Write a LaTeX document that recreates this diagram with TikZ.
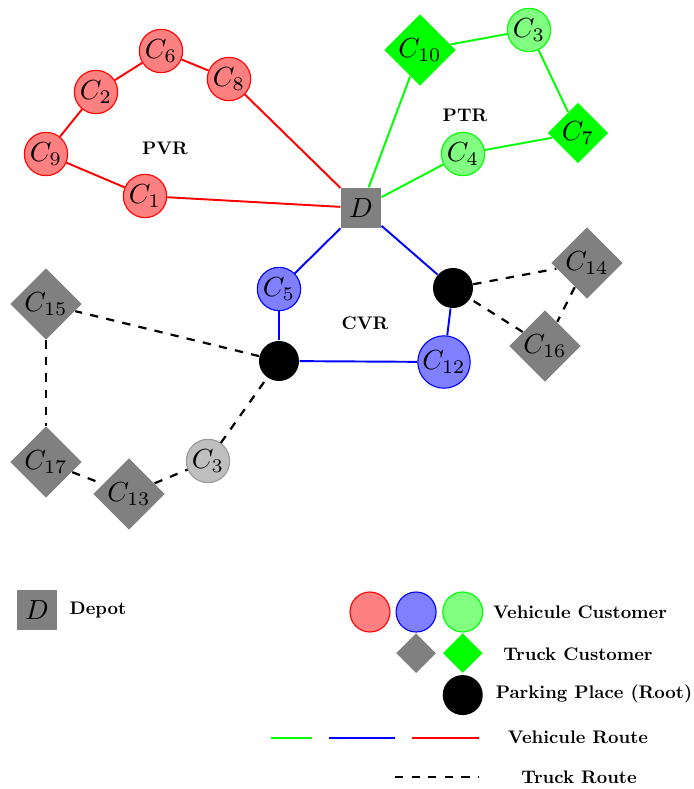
\documentclass[tikz,border=0pt]{standalone}
\usepackage{amsmath,amssymb}
\usepackage{xcolor}
\usepackage{tikz}
\usetikzlibrary{shapes,positioning}

\begin{document}
\begin{tikzpicture}[x=0.3623pt, y=-0.3623pt,
    depot/.style={rectangle, fill=gray, minimum size=14.5pt, inner sep=0pt},
    redcust/.style={circle, draw=red, fill=red!50, minimum size=14.5pt, inner sep=0.5pt},
    bluecust/.style={circle, draw=blue, fill=blue!50, minimum size=14.5pt, inner sep=0.5pt},
    greencust/.style={circle, draw=green, fill=green!50, minimum size=14.5pt, inner sep=0.5pt},
    greycust/.style={circle, draw=gray!80, fill=gray!50, minimum size=14.5pt, inner sep=0.5pt},
    greentruck/.style={diamond, fill=green, inner sep=0.5pt},
    greytruck/.style={diamond, fill=gray, inner sep=0.5pt},
    parking/.style={circle, fill=black, minimum size=14.5pt, inner sep=0pt},
    routelabel/.style={font=\bfseries, scale=0.66, transform shape, inner sep=0pt},
    vroute/.style={line width=0.7pt},
    troute/.style={thick, dashed}
]
\useasboundingbox (0,0) rectangle (693,789);

% Depot
\node [depot] (d) at (361,208) {$D$};

% PVR (red vehicle route)
\node [redcust] (c1) at (145,196) {$C_1$};
\node [redcust] (c9) at (46,154) {$C_9$};
\node [redcust] (c2) at (96,92) {$C_2$};
\node [redcust] (c6) at (161,51) {$C_6$};
\node [redcust] (c8) at (229,79) {$C_8$};
\node [routelabel] (pvr) at (165,148) {PVR};

% PTR (green route)
\node [greentruck] (c10) at (420,50) {$C_{10}$};
\node [greencust] (c3) at (529,30) {$C_3$};
\node [greentruck] (c7) at (578,133) {$C_7$};
\node [greencust] (c4) at (463,154) {$C_4$};
\node [routelabel] (ptr) at (465,115) {PTR};

% CVR (blue route with parking places)
\node [bluecust] (c5) at (279,289) {$C_5$};
\node [parking] (p1) at (279,361) {};
\node [bluecust] (c12) at (444,362) {$C_{12}$};
\node [parking] (p2) at (453,288) {};
\node [routelabel] (cvr) at (365,323) {CVR};

% Truck customers
\node [greytruck] (c15) at (46,304) {$C_{15}$};
\node [greytruck] (c17) at (46,462) {$C_{17}$};
\node [greytruck] (c13) at (129,494) {$C_{13}$};
\node [greycust] (c3t) at (208,461) {$C_3$};
\node [greytruck] (c14) at (587,263) {$C_{14}$};
\node [greytruck] (c16) at (545,346) {$C_{16}$};

% Routes
\draw [vroute, red] (d) -- (c1);
\draw [vroute, red] (c1) -- (c9);
\draw [vroute, red] (c9) -- (c2);
\draw [vroute, red] (c2) -- (c6);
\draw [vroute, red] (c6) -- (c8);
\draw [vroute, red] (c8) -- (d);

\draw [vroute, green] (d) -- (c10);
\draw [vroute, green] (c10) -- (c3);
\draw [vroute, green] (c3) -- (c7);
\draw [vroute, green] (c7) -- (c4);
\draw [vroute, green] (c4) -- (d);

\draw [vroute, blue] (d) -- (c5);
\draw [vroute, blue] (c5) -- (p1);
\draw [vroute, blue] (p1) -- (c12);
\draw [vroute, blue] (c12) -- (p2);
\draw [vroute, blue] (p2) -- (d);

\draw [troute] (p1) -- (c15);
\draw [troute] (c15) -- (c17);
\draw [troute] (c17) -- (c13);
\draw [troute] (c13) -- (c3t);
\draw [troute] (c3t) -- (p1);
\draw [troute] (p2) -- (c14);
\draw [troute] (c14) -- (c16);
\draw [troute] (c16) -- (p2);

% Legend
\node [depot] (legdepot) at (37,610) {$D$};
\node [routelabel] (depottext) at (98,610) {Depot};

\node [redcust] (legred) at (370,612) {};
\node [bluecust, right=1.8pt of legred] (legblue) {};
\node [greencust, right=2pt of legblue] (leggreen) {};
\node [greytruck, minimum size=14.5pt, below=0pt of legblue] (leggrey) {};
\node [greentruck, minimum size=14.5pt, below=0pt of leggreen] (leggreentruck) {};
\node [parking, below=0.3pt of leggreentruck] (legpark) {};

\node [routelabel] (vctext) at (580,612) {Vehicule Customer};
\node [routelabel] (tctext) at (578,654) {Truck Customer};
\node [routelabel] (pptext) at (594,694) {Parking Place (Root)};

\coordinate (gs) at (271,738); \coordinate (ge) at (312,738);
\coordinate (bs) at (329,738); \coordinate (be) at (395,738);
\coordinate (rs) at (412,738); \coordinate (re) at (479,738);
\coordinate (ts) at (395,777); \coordinate (te) at (479,777);
\draw [vroute, green] (gs) -- (ge);
\draw [vroute, blue] (bs) -- (be);
\draw [vroute, red] (rs) -- (re);
\draw [troute] (ts) -- (te);

\node [routelabel] (vrtext) at (578,737) {Vehicule Route};
\node [routelabel] (trtext) at (579,777) {Truck Route};

\end{tikzpicture}
\end{document}
